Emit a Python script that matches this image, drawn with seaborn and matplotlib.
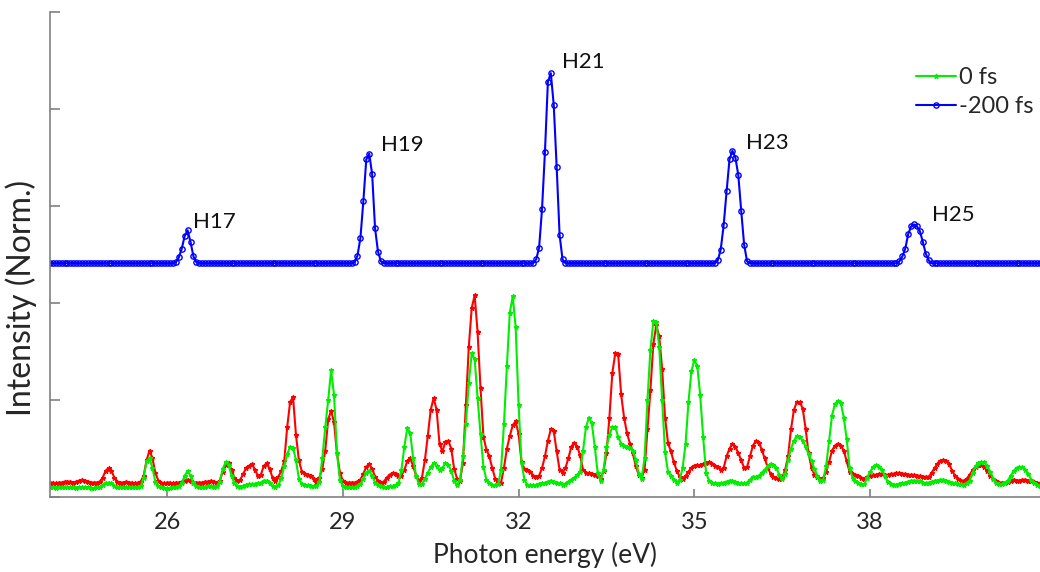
import numpy as np
import pandas as pd
import seaborn as sns
import matplotlib
matplotlib.use("Agg")
import matplotlib.pyplot as plt
from matplotlib.lines import Line2D

# photon energy grid (eV), one sample every 0.05 eV
energy = np.round(np.arange(24.0, 40.901, 0.05), 2)

# 0 fs (green)
green = [
    0.10, 0.10, 0.09, 0.10, 0.10, 0.10, 0.10, 0.10, 0.10, 0.09, 0.10, 0.10, 0.10, 0.10, 0.09, 0.09, 0.10, 0.10, 0.12, 0.14,  # 24
    0.15, 0.14, 0.11, 0.10, 0.10, 0.10, 0.10, 0.10, 0.10, 0.10, 0.10, 0.11, 0.20, 0.37, 0.40, 0.30, 0.16, 0.11, 0.10, 0.09,  # 25
    0.09, 0.09, 0.10, 0.10, 0.11, 0.14, 0.22, 0.27, 0.22, 0.14, 0.11, 0.10, 0.10, 0.10, 0.11, 0.11, 0.10, 0.11, 0.16, 0.29,  # 26
    0.36, 0.33, 0.22, 0.14, 0.11, 0.10, 0.11, 0.12, 0.13, 0.13, 0.13, 0.14, 0.15, 0.17, 0.17, 0.14, 0.11, 0.10, 0.12, 0.20,  # 27
    0.32, 0.44, 0.52, 0.51, 0.38, 0.19, 0.13, 0.12, 0.12, 0.11, 0.11, 0.11, 0.16, 0.40, 0.72, 1.00, 1.31, 1.05, 0.45, 0.18,  # 28
    0.11, 0.10, 0.10, 0.10, 0.10, 0.11, 0.13, 0.19, 0.25, 0.27, 0.22, 0.15, 0.12, 0.11, 0.10, 0.10, 0.11, 0.11, 0.12, 0.14,  # 29
    0.28, 0.52, 0.71, 0.66, 0.40, 0.22, 0.13, 0.13, 0.19, 0.25, 0.31, 0.35, 0.32, 0.28, 0.30, 0.35, 0.33, 0.27, 0.17, 0.12,  # 30
    0.18, 0.42, 0.75, 1.18, 1.48, 1.42, 1.02, 0.65, 0.31, 0.18, 0.14, 0.12, 0.12, 0.13, 0.28, 0.75, 1.35, 1.90, 2.07, 1.75,  # 31
    0.95, 0.35, 0.18, 0.12, 0.12, 0.12, 0.12, 0.13, 0.14, 0.14, 0.16, 0.17, 0.16, 0.15, 0.14, 0.12, 0.13, 0.16, 0.18, 0.20,  # 32
    0.23, 0.26, 0.48, 0.72, 0.82, 0.76, 0.52, 0.25, 0.17, 0.28, 0.52, 0.64, 0.72, 0.72, 0.62, 0.55, 0.53, 0.52, 0.51, 0.48,  # 33
    0.38, 0.24, 0.19, 0.40, 1.00, 1.52, 1.81, 1.80, 1.55, 1.00, 0.46, 0.26, 0.22, 0.18, 0.15, 0.18, 0.30, 0.55, 0.98, 1.30,  # 34
    1.41, 1.35, 1.05, 0.62, 0.25, 0.17, 0.15, 0.14, 0.13, 0.14, 0.15, 0.16, 0.17, 0.17, 0.16, 0.14, 0.14, 0.14, 0.15, 0.18,  # 35
    0.21, 0.21, 0.22, 0.25, 0.28, 0.32, 0.34, 0.33, 0.30, 0.23, 0.19, 0.24, 0.38, 0.50, 0.58, 0.63, 0.62, 0.58, 0.52, 0.44,  # 36
    0.37, 0.29, 0.22, 0.17, 0.18, 0.32, 0.58, 0.84, 0.96, 0.99, 0.97, 0.82, 0.60, 0.30, 0.20, 0.17, 0.15, 0.13, 0.13, 0.20,  # 37
    0.26, 0.31, 0.33, 0.31, 0.28, 0.22, 0.16, 0.13, 0.12, 0.12, 0.13, 0.14, 0.15, 0.16, 0.17, 0.17, 0.17, 0.17, 0.15, 0.14,  # 38
    0.15, 0.16, 0.17, 0.17, 0.18, 0.18, 0.17, 0.16, 0.15, 0.14, 0.13, 0.13, 0.12, 0.14, 0.17, 0.25, 0.32, 0.35, 0.36, 0.36,  # 39
    0.32, 0.26, 0.19, 0.15, 0.13, 0.13, 0.14, 0.17, 0.22, 0.27, 0.30, 0.31, 0.31, 0.28, 0.24, 0.18, 0.14, 0.12, 0.11,        # 40
]

# red trace (no legend entry)
red = [
    0.15, 0.15, 0.14, 0.15, 0.15, 0.16, 0.16, 0.16, 0.15, 0.16, 0.17, 0.18, 0.17, 0.16, 0.15, 0.15, 0.15, 0.16, 0.20, 0.27,  # 24
    0.30, 0.27, 0.20, 0.16, 0.15, 0.15, 0.16, 0.15, 0.15, 0.14, 0.15, 0.16, 0.22, 0.38, 0.48, 0.40, 0.25, 0.17, 0.15, 0.14,  # 25
    0.15, 0.15, 0.14, 0.15, 0.15, 0.16, 0.17, 0.18, 0.17, 0.15, 0.15, 0.15, 0.15, 0.16, 0.16, 0.17, 0.16, 0.15, 0.17, 0.26,  # 26
    0.33, 0.35, 0.28, 0.20, 0.17, 0.18, 0.24, 0.30, 0.32, 0.34, 0.28, 0.22, 0.23, 0.32, 0.35, 0.29, 0.20, 0.17, 0.21, 0.27,  # 27
    0.37, 0.72, 0.98, 1.03, 0.64, 0.38, 0.26, 0.24, 0.23, 0.22, 0.19, 0.16, 0.20, 0.29, 0.48, 0.80, 0.89, 0.77, 0.45, 0.25,  # 28
    0.17, 0.15, 0.15, 0.15, 0.15, 0.16, 0.18, 0.24, 0.31, 0.34, 0.29, 0.21, 0.17, 0.15, 0.16, 0.20, 0.23, 0.25, 0.24, 0.22,  # 29
    0.22, 0.28, 0.37, 0.40, 0.32, 0.22, 0.17, 0.20, 0.38, 0.63, 0.90, 1.02, 0.90, 0.55, 0.47, 0.57, 0.58, 0.50, 0.29, 0.19,  # 30
    0.17, 0.35, 0.95, 1.55, 1.95, 2.08, 1.70, 1.12, 0.62, 0.49, 0.42, 0.30, 0.19, 0.15, 0.15, 0.30, 0.50, 0.63, 0.74, 0.78,  # 31
    0.65, 0.36, 0.29, 0.28, 0.26, 0.22, 0.21, 0.22, 0.30, 0.42, 0.58, 0.70, 0.68, 0.47, 0.28, 0.25, 0.30, 0.40, 0.52, 0.56,  # 32
    0.52, 0.43, 0.28, 0.25, 0.25, 0.24, 0.23, 0.22, 0.19, 0.27, 0.45, 0.82, 1.28, 1.48, 1.47, 1.06, 0.82, 0.66, 0.55, 0.45,  # 33
    0.32, 0.23, 0.20, 0.28, 0.70, 1.10, 1.58, 1.77, 1.66, 1.32, 0.82, 0.56, 0.47, 0.36, 0.27, 0.21, 0.19, 0.22, 0.26, 0.30,  # 34
    0.32, 0.33, 0.33, 0.34, 0.35, 0.36, 0.34, 0.32, 0.31, 0.28, 0.30, 0.42, 0.50, 0.55, 0.52, 0.45, 0.38, 0.30, 0.31, 0.42,  # 35
    0.53, 0.58, 0.56, 0.49, 0.40, 0.31, 0.24, 0.21, 0.20, 0.19, 0.20, 0.28, 0.42, 0.70, 0.90, 0.98, 0.98, 0.91, 0.70, 0.45,  # 36
    0.30, 0.23, 0.21, 0.19, 0.20, 0.26, 0.36, 0.48, 0.53, 0.55, 0.53, 0.48, 0.37, 0.26, 0.24, 0.23, 0.22, 0.20, 0.19, 0.21,  # 37
    0.22, 0.23, 0.23, 0.24, 0.24, 0.23, 0.23, 0.24, 0.24, 0.25, 0.25, 0.24, 0.24, 0.23, 0.23, 0.23, 0.22, 0.22, 0.21, 0.21,  # 38
    0.21, 0.25, 0.30, 0.34, 0.37, 0.38, 0.37, 0.34, 0.27, 0.22, 0.19, 0.17, 0.17, 0.19, 0.23, 0.28, 0.31, 0.33, 0.33, 0.31,  # 39
    0.27, 0.22, 0.19, 0.17, 0.15, 0.15, 0.15, 0.16, 0.17, 0.18, 0.17, 0.17, 0.18, 0.18, 0.17, 0.17, 0.16, 0.15, 0.14,        # 40
]

# -200 fs (blue), drawn with its own offset baseline
blue = [
    2.41, 2.41, 2.41, 2.41, 2.41, 2.41, 2.41, 2.41, 2.41, 2.41, 2.41, 2.41, 2.41, 2.41, 2.41, 2.41, 2.41, 2.41, 2.41, 2.41,  # 24
    2.41, 2.41, 2.41, 2.41, 2.41, 2.41, 2.41, 2.41, 2.41, 2.41, 2.41, 2.41, 2.41, 2.41, 2.41, 2.41, 2.41, 2.41, 2.41, 2.41,  # 25
    2.41, 2.41, 2.41, 2.42, 2.47, 2.56, 2.69, 2.75, 2.63, 2.48, 2.42, 2.41, 2.41, 2.41, 2.41, 2.41, 2.41, 2.41, 2.41, 2.41,  # 26
    2.41, 2.41, 2.41, 2.41, 2.41, 2.41, 2.41, 2.41, 2.41, 2.41, 2.41, 2.41, 2.41, 2.41, 2.41, 2.41, 2.41, 2.41, 2.41, 2.41,  # 27
    2.41, 2.41, 2.41, 2.41, 2.41, 2.41, 2.41, 2.41, 2.41, 2.41, 2.41, 2.41, 2.41, 2.41, 2.41, 2.41, 2.41, 2.41, 2.41, 2.41,  # 28
    2.41, 2.41, 2.41, 2.41, 2.42, 2.49, 2.67, 3.05, 3.48, 3.54, 3.33, 2.77, 2.53, 2.43, 2.41, 2.41, 2.41, 2.41, 2.41, 2.41,  # 29
    2.41, 2.41, 2.41, 2.41, 2.41, 2.41, 2.41, 2.41, 2.41, 2.41, 2.41, 2.41, 2.41, 2.41, 2.41, 2.41, 2.41, 2.41, 2.41, 2.41,  # 30
    2.41, 2.41, 2.41, 2.41, 2.41, 2.41, 2.41, 2.41, 2.41, 2.41, 2.41, 2.41, 2.41, 2.41, 2.41, 2.41, 2.41, 2.41, 2.41, 2.41,  # 31
    2.41, 2.41, 2.41, 2.41, 2.41, 2.41, 2.45, 2.57, 2.97, 3.56, 4.28, 4.37, 4.04, 3.40, 2.70, 2.45, 2.41, 2.41, 2.41, 2.41,  # 32
    2.41, 2.41, 2.41, 2.41, 2.41, 2.41, 2.41, 2.41, 2.41, 2.41, 2.41, 2.41, 2.41, 2.41, 2.41, 2.41, 2.41, 2.41, 2.41, 2.41,  # 33
    2.41, 2.41, 2.41, 2.41, 2.41, 2.41, 2.41, 2.41, 2.41, 2.41, 2.41, 2.41, 2.41, 2.41, 2.41, 2.41, 2.41, 2.41, 2.41, 2.41,  # 34
    2.41, 2.41, 2.41, 2.41, 2.41, 2.41, 2.41, 2.41, 2.44, 2.55, 2.80, 3.15, 3.48, 3.57, 3.50, 3.32, 2.95, 2.60, 2.43, 2.41,  # 35
    2.41, 2.41, 2.41, 2.41, 2.41, 2.41, 2.41, 2.41, 2.41, 2.41, 2.41, 2.41, 2.41, 2.41, 2.41, 2.41, 2.41, 2.41, 2.41, 2.41,  # 36
    2.41, 2.41, 2.41, 2.41, 2.41, 2.41, 2.41, 2.41, 2.41, 2.41, 2.41, 2.41, 2.41, 2.41, 2.41, 2.41, 2.41, 2.41, 2.41, 2.41,  # 37
    2.41, 2.41, 2.41, 2.41, 2.41, 2.41, 2.41, 2.41, 2.41, 2.41, 2.43, 2.48, 2.56, 2.71, 2.79, 2.81, 2.79, 2.74, 2.63, 2.51,  # 38
    2.44, 2.41, 2.41, 2.41, 2.41, 2.41, 2.41, 2.41, 2.41, 2.41, 2.41, 2.41, 2.41, 2.41, 2.41, 2.41, 2.41, 2.41, 2.41, 2.41,  # 39
    2.41, 2.41, 2.41, 2.41, 2.41, 2.41, 2.41, 2.41, 2.41, 2.41, 2.41, 2.41, 2.41, 2.41, 2.41, 2.41, 2.41, 2.41, 2.41,        # 40
]

harmonic_labels = ["H17", "H19", "H21", "H23", "H25"]
harmonic_x = [26.44, 29.65, 32.74, 35.88, 39.05]
harmonic_y = [2.84, 3.63, 4.48, 3.65, 2.91]

x_ticks = [26, 29, 32, 35, 38]

df = pd.DataFrame({"energy": energy, "0 fs": green, "red": red, "-200 fs": blue})

sns.set_style("ticks")
plt.rcParams["font.family"] = ["Lato", "DejaVu Sans"]

fig = plt.figure(figsize=(10.4, 5.72), dpi=100)
ax = fig.add_axes([0.048, 0.131, 0.952, 0.848])

GREEN = "#00ee00"
RED = "#ff0000"
BLUE = "#0000ff"

sns.lineplot(data=df, x="energy", y="red", color=RED, lw=1.5, marker="*",
             markersize=3.5, markeredgecolor=RED, markeredgewidth=0.8, ax=ax)
sns.lineplot(data=df, x="energy", y="0 fs", color=GREEN, lw=1.5, marker="*",
             markersize=3.5, markeredgecolor=GREEN, markeredgewidth=0.8, ax=ax)
sns.lineplot(data=df, x="energy", y="-200 fs", color=BLUE, lw=1.5, marker="o",
             markersize=3.8, markerfacecolor="none", markeredgecolor=BLUE,
             markeredgewidth=1.0, ax=ax)

for lab, hx, hy in zip(harmonic_labels, harmonic_x, harmonic_y):
    ax.text(hx, hy, lab, fontsize=16, ha="left", va="center", color="#111111")

ax.set_xlim(24.0, 40.9)
ax.set_ylim(0, 5)
ax.set_xticks(x_ticks)
ax.set_yticks([0, 1, 2, 3, 4, 5])
ax.set_yticklabels([])
ax.tick_params(axis="both", direction="in", color="#808080", width=1.2,
               labelsize=17, labelcolor="#262626")
ax.tick_params(axis="x", length=6, pad=11)
ax.tick_params(axis="y", length=7)
for s in ["top", "right"]:
    ax.spines[s].set_visible(False)
for s in ["left", "bottom"]:
    ax.spines[s].set_color("#808080")
    ax.spines[s].set_linewidth(1.2)

ax.set_xlabel("Photon energy (eV)", fontsize=19, color="#262626", labelpad=6)
ax.set_ylabel("Intensity (Norm.)", fontsize=23, color="#262626")
ax.yaxis.set_label_coords(-0.013, 0.41)

handles = [
    Line2D([], [], color=GREEN, lw=1.5, marker="*", markersize=3.5,
           markeredgecolor=GREEN),
    Line2D([], [], color=BLUE, lw=1.5, marker="o", markersize=3.8,
           markerfacecolor="none", markeredgewidth=1.0),
]
ax.legend(handles, ["0 fs", "-200 fs"], frameon=False, fontsize=17,
          loc="upper left", bbox_to_anchor=(0.86, 0.92),
          bbox_transform=fig.transFigure, handlelength=1.7,
          handletextpad=0.15, labelspacing=0.35)

fig.savefig("out.png", dpi=100)
